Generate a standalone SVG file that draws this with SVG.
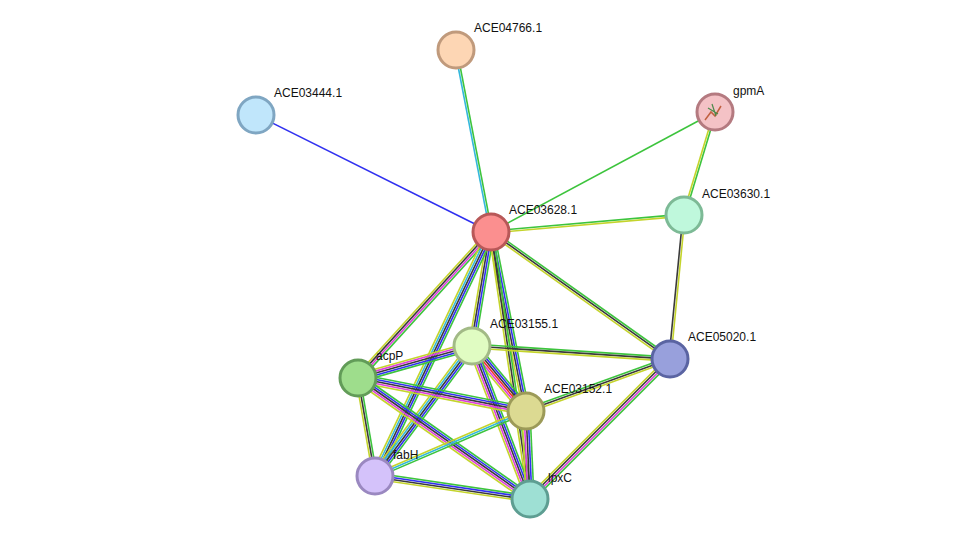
<svg xmlns="http://www.w3.org/2000/svg" width="975" height="545" viewBox="0 0 975 545">
<style>
line{stroke-width:1.6;fill:none}
.g{stroke:#3dc43d}.y{stroke:#c4d42c}.k{stroke:#3a3a3a}.b{stroke:#3030f0}.m{stroke:#dd3fdd}.c{stroke:#34b8dc}.r{stroke:#f03030}
circle{stroke-width:3}
text{font-family:"Liberation Sans",Arial,sans-serif;font-size:12px;fill:#111}
</style>
<rect width="975" height="545" fill="#fff"/>
<g id="connectors">
<g transform="translate(491,232) rotate(-100.9)"><line class="c" x1="0" y1="-1" x2="185.3" y2="-1"/><line class="g" x1="0" y1="1" x2="185.3" y2="1"/></g>
<g transform="translate(491,232) rotate(-153.5)"><line class="b" x1="0" y1="0" x2="262.5" y2="0"/></g>
<g transform="translate(491,232) rotate(-28.2)"><line class="g" x1="0" y1="0" x2="254.1" y2="0"/></g>
<g transform="translate(715,112) rotate(106.8)"><line class="g" x1="0" y1="-1" x2="107.6" y2="-1"/><line class="y" x1="0" y1="1" x2="107.6" y2="1"/></g>
<g transform="translate(491,232) rotate(-5)"><line class="g" x1="0" y1="-1" x2="193.7" y2="-1"/><line class="y" x1="0" y1="1" x2="193.7" y2="1"/></g>
<g transform="translate(684,215) rotate(95.6)"><line class="y" x1="0" y1="-1" x2="144.7" y2="-1"/><line class="k" x1="0" y1="1" x2="144.7" y2="1"/></g>
<g transform="translate(491,232) rotate(35.4)"><line class="g" x1="0" y1="-2" x2="219.5" y2="-2"/><line class="k" x1="0" y1="0" x2="219.5" y2="0"/><line class="y" x1="0" y1="2" x2="219.5" y2="2"/></g>
<g transform="translate(491,232) rotate(132.3)"><line class="g" x1="0" y1="-3" x2="197.5" y2="-3"/><line class="m" x1="0" y1="-1" x2="197.5" y2="-1"/><line class="k" x1="0" y1="1" x2="197.5" y2="1"/><line class="y" x1="0" y1="3" x2="197.5" y2="3"/></g>
<g transform="translate(491,232) rotate(99.5)"><line class="g" x1="0" y1="-3" x2="115.6" y2="-3"/><line class="b" x1="0" y1="-1" x2="115.6" y2="-1"/><line class="k" x1="0" y1="1" x2="115.6" y2="1"/><line class="y" x1="0" y1="3" x2="115.6" y2="3"/></g>
<g transform="translate(491,232) rotate(78.9)"><line class="g" x1="0" y1="-3" x2="182.4" y2="-3"/><line class="b" x1="0" y1="-1" x2="182.4" y2="-1"/><line class="k" x1="0" y1="1" x2="182.4" y2="1"/><line class="y" x1="0" y1="3" x2="182.4" y2="3"/></g>
<g transform="translate(491,232) rotate(115.4)"><line class="g" x1="0" y1="-4" x2="270.2" y2="-4"/><line class="b" x1="0" y1="-2" x2="270.2" y2="-2"/><line class="k" x1="0" y1="0" x2="270.2" y2="0"/><line class="c" x1="0" y1="2" x2="270.2" y2="2"/><line class="y" x1="0" y1="4" x2="270.2" y2="4"/></g>
<g transform="translate(491,232) rotate(81.7)"><line class="g" x1="0" y1="-2" x2="269.8" y2="-2"/><line class="k" x1="0" y1="0" x2="269.8" y2="0"/><line class="y" x1="0" y1="2" x2="269.8" y2="2"/></g>
<g transform="translate(472,346) rotate(3.8)"><line class="g" x1="0" y1="-2" x2="198.4" y2="-2"/><line class="k" x1="0" y1="0" x2="198.4" y2="0"/><line class="y" x1="0" y1="2" x2="198.4" y2="2"/></g>
<g transform="translate(472,346) rotate(164.3)"><line class="g" x1="0" y1="-4" x2="118.4" y2="-4"/><line class="b" x1="0" y1="-2" x2="118.4" y2="-2"/><line class="k" x1="0" y1="0" x2="118.4" y2="0"/><line class="m" x1="0" y1="2" x2="118.4" y2="2"/><line class="y" x1="0" y1="4" x2="118.4" y2="4"/></g>
<g transform="translate(472,346) rotate(50.3)"><line class="g" x1="0" y1="-5" x2="84.5" y2="-5"/><line class="b" x1="0" y1="-3" x2="84.5" y2="-3"/><line class="k" x1="0" y1="-1" x2="84.5" y2="-1"/><line class="r" x1="0" y1="1" x2="84.5" y2="1"/><line class="m" x1="0" y1="3" x2="84.5" y2="3"/><line class="y" x1="0" y1="5" x2="84.5" y2="5"/></g>
<g transform="translate(472,346) rotate(126.7)"><line class="g" x1="0" y1="-4" x2="162.2" y2="-4"/><line class="b" x1="0" y1="-2" x2="162.2" y2="-2"/><line class="k" x1="0" y1="0" x2="162.2" y2="0"/><line class="c" x1="0" y1="2" x2="162.2" y2="2"/><line class="y" x1="0" y1="4" x2="162.2" y2="4"/></g>
<g transform="translate(472,346) rotate(69.2)"><line class="g" x1="0" y1="-4" x2="163.6" y2="-4"/><line class="b" x1="0" y1="-2" x2="163.6" y2="-2"/><line class="k" x1="0" y1="0" x2="163.6" y2="0"/><line class="m" x1="0" y1="2" x2="163.6" y2="2"/><line class="y" x1="0" y1="4" x2="163.6" y2="4"/></g>
<g transform="translate(358,378) rotate(11.1)"><line class="g" x1="0" y1="-4" x2="171.2" y2="-4"/><line class="b" x1="0" y1="-2" x2="171.2" y2="-2"/><line class="k" x1="0" y1="0" x2="171.2" y2="0"/><line class="m" x1="0" y1="2" x2="171.2" y2="2"/><line class="y" x1="0" y1="4" x2="171.2" y2="4"/></g>
<g transform="translate(358,378) rotate(80.2)"><line class="g" x1="0" y1="-2" x2="99.5" y2="-2"/><line class="k" x1="0" y1="0" x2="99.5" y2="0"/><line class="y" x1="0" y1="2" x2="99.5" y2="2"/></g>
<g transform="translate(358,378) rotate(35.1)"><line class="g" x1="0" y1="-4" x2="210.3" y2="-4"/><line class="b" x1="0" y1="-2" x2="210.3" y2="-2"/><line class="k" x1="0" y1="0" x2="210.3" y2="0"/><line class="m" x1="0" y1="2" x2="210.3" y2="2"/><line class="y" x1="0" y1="4" x2="210.3" y2="4"/></g>
<g transform="translate(526,411) rotate(-19.9)"><line class="g" x1="0" y1="-2" x2="153.1" y2="-2"/><line class="k" x1="0" y1="0" x2="153.1" y2="0"/><line class="y" x1="0" y1="2" x2="153.1" y2="2"/></g>
<g transform="translate(526,411) rotate(156.7)"><line class="g" x1="0" y1="-2" x2="164.4" y2="-2"/><line class="c" x1="0" y1="0" x2="164.4" y2="0"/><line class="y" x1="0" y1="2" x2="164.4" y2="2"/></g>
<g transform="translate(526,411) rotate(87.4)"><line class="g" x1="0" y1="-4" x2="88.1" y2="-4"/><line class="b" x1="0" y1="-2" x2="88.1" y2="-2"/><line class="k" x1="0" y1="0" x2="88.1" y2="0"/><line class="m" x1="0" y1="2" x2="88.1" y2="2"/><line class="y" x1="0" y1="4" x2="88.1" y2="4"/></g>
<g transform="translate(375,476) rotate(8.4)"><line class="g" x1="0" y1="-3" x2="156.7" y2="-3"/><line class="b" x1="0" y1="-1" x2="156.7" y2="-1"/><line class="k" x1="0" y1="1" x2="156.7" y2="1"/><line class="y" x1="0" y1="3" x2="156.7" y2="3"/></g>
<g transform="translate(670,359) rotate(135)"><line class="g" x1="0" y1="-3" x2="198" y2="-3"/><line class="m" x1="0" y1="-1" x2="198" y2="-1"/><line class="k" x1="0" y1="1" x2="198" y2="1"/><line class="y" x1="0" y1="3" x2="198" y2="3"/></g>
</g>
<g id="ACE04766"><circle cx="456" cy="50" r="18" fill="#fdd6b4" stroke="#c09a7c"/><text x="474" y="32">ACE04766.1</text></g>
<g id="ACE03444"><circle cx="256" cy="115" r="18" fill="#c0e6fb" stroke="#7fa6c2"/><text x="274" y="97">ACE03444.1</text></g>
<g id="gpmA"><circle cx="715" cy="112" r="18" fill="#f4c2c6" stroke="#b47a80"/><path d="M705,120 l6,-8 l4,4 l6,-10" stroke="#c06040" stroke-width="1.5" fill="none"/><path d="M708,108 l10,6 M712,104 l4,12" stroke="#4a8a4a" stroke-width="1.2"/><text x="733" y="95">gpmA</text></g>
<g id="ACE03630"><circle cx="684" cy="215" r="18" fill="#bff8dc" stroke="#7dba96"/><text x="702" y="198">ACE03630.1</text></g>
<g id="ACE03628"><circle cx="491" cy="232" r="18" fill="#fb8f8f" stroke="#b85858"/><text x="509" y="214">ACE03628.1</text></g>
<g id="ACE03155"><circle cx="472" cy="346" r="18" fill="#e0fcc2" stroke="#a2ba86"/><text x="490" y="328">ACE03155.1</text></g>
<g id="acpP"><circle cx="358" cy="378" r="18" fill="#9edd8c" stroke="#629c58"/><text x="376" y="360">acpP</text></g>
<g id="ACE05020"><circle cx="670" cy="359" r="18" fill="#98a0dc" stroke="#5a64a2"/><text x="688" y="341">ACE05020.1</text></g>
<g id="ACE03152"><circle cx="526" cy="411" r="18" fill="#dcda92" stroke="#9c9a58"/><text x="544" y="393">ACE03152.1</text></g>
<g id="fabH"><circle cx="375" cy="476" r="18" fill="#d4c2fa" stroke="#9a88c0"/><text x="393" y="459">fabH</text></g>
<g id="lpxC"><circle cx="530" cy="499" r="18" fill="#9ee0d4" stroke="#5e9e92"/><text x="548" y="482">lpxC</text></g>
</svg>
